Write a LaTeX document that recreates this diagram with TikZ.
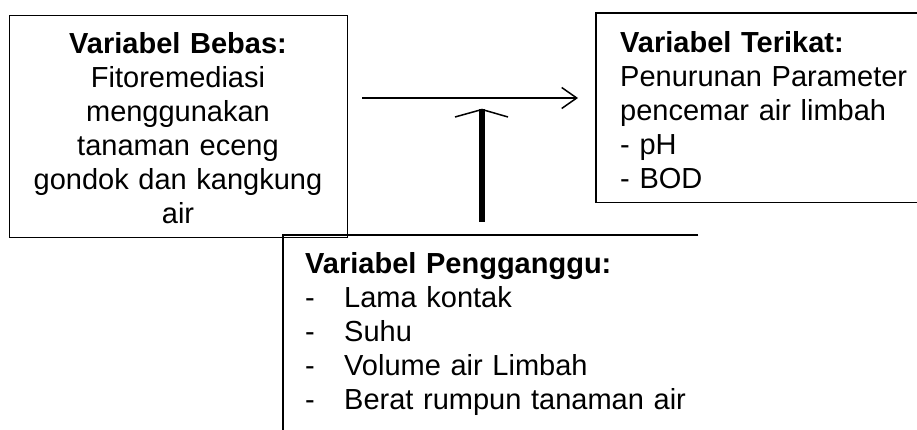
\documentclass[tikz,border=0pt]{standalone}
\usepackage{fontspec}
\setmainfont{Liberation Sans}
\usetikzlibrary{arrows.meta}
\tikzset{
  boxline/.style={line width=1.3pt, draw=black},
  txt/.style={inner sep=0pt, font=\fontsize{29}{34}\selectfont}
}
\newcommand{\dashitem}[1]{\makebox[39pt][l]{-}#1}
\begin{document}
\begin{tikzpicture}[x=1pt,y=-1pt]
\useasboundingbox (0,0) rectangle (917,430);
% boxes
\node[boxline, draw, minimum width=338pt, minimum height=222pt, anchor=north west, inner sep=0pt] (b1) at (9,15) {};
\node[minimum width=330pt, minimum height=189pt, anchor=north west, inner sep=0pt] (b2) at (596,13) {};
\node[minimum width=415pt, minimum height=200pt, anchor=north west, inner sep=0pt] (b3) at (283,235) {};
\draw[boxline] (b2.north east) -- (b2.north west) -- (b2.south west) -- (b2.south east);
\draw[boxline] (b3.north east) -- (b3.north west) -- (b3.south west);
% texts
\node[txt, text width=330pt, align=center, anchor=base] (t1) at (178,54)
  {\textbf{Variabel Bebas:}\\Fitoremediasi\\menggunakan\\tanaman eceng\\gondok dan kangkung\\air};
\node[txt, text width=295pt, align=left, anchor=base west] (t2) at (620,53)
  {\textbf{Variabel Terikat:}\\Penurunan Parameter\\pencemar air limbah\\- pH\\- BOD};
\node[txt, text width=390pt, align=left, anchor=base west] (t3) at (305,273)
  {\textbf{Variabel Pengganggu:}\\\dashitem{Lama kontak}\\\dashitem{Suhu}\\\dashitem{Volume air Limbah}\\\dashitem{Berat rumpun tanaman air}};
% connectors
\coordinate (h1) at (362,98);
\coordinate (h2) at (578,98);
\draw[line width=1.5pt, -{Straight Barb[length=15pt, width=21pt, line width=1.5pt]}] (h1) -- (h2);
\coordinate (vb) at (482,222);
\coordinate (vt) at (482,109.5);
\coordinate (vl) at (455,117);
\coordinate (vr) at (508,117);
\draw[line width=6.5pt] (vb) -- (vt);
\draw[line width=1.5pt, line join=miter] (vl) -- (vt) -- (vr);
\end{tikzpicture}
\end{document}
